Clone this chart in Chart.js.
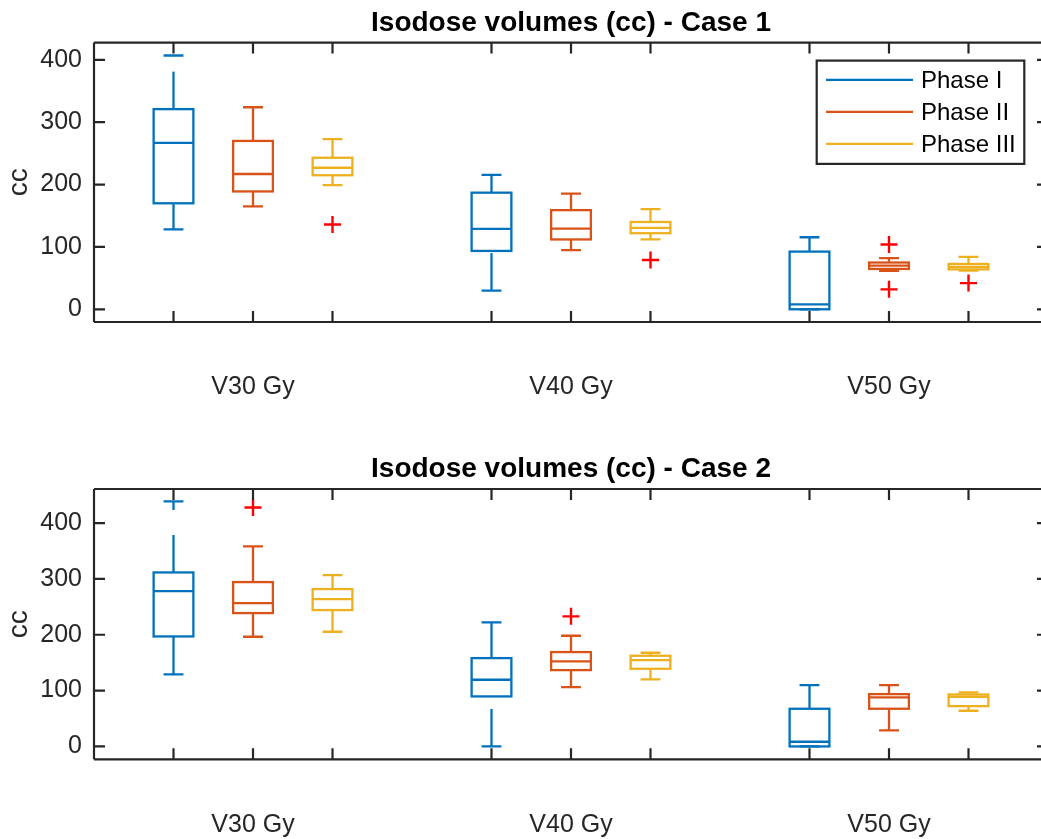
<!DOCTYPE html>
<html>
<head>
<meta charset="utf-8">
<script src="https://cdn.jsdelivr.net/npm/chart.js@4.4.1/dist/chart.umd.min.js"></script>
<style>
  html, body { margin: 0; padding: 0; background: #fff; overflow: hidden; }
  #wrap { position: relative; width: 1060px; height: 839px; }
  canvas { position: absolute; left: 0; }
</style>
</head>
<body>
<div id="wrap">
  <canvas id="case1" width="1060" height="420" style="top:0"></canvas>
  <canvas id="case2" width="1060" height="419" style="top:420px"></canvas>
</div>
<script>
const groups = ['V30 Gy', 'V40 Gy', 'V50 Gy'];
const phases = ['Phase I', 'Phase II', 'Phase III'];
const phaseColors = ['#0072BD', '#D95319', '#EDB120'];
const yTicks = [0, 100, 200, 300, 400];

// box stats, order: V30 (I, II, III), V40 (I, II, III), V50 (I, II, III)
const case1Lo  = [128, 165, 199, 30, 95, 112, 0, 61.5, 62];
const case1Q1  = [170, 189, 215, 93.6, 112, 122, 0, 64.7, 64];
const case1Med = [267, 217, 227, 129, 129.5, 130.5, 8, 70, 68];
const case1Q3  = [321, 270, 243, 187, 159, 140, 92.5, 75, 72.7];
const case1Hi  = [407, 324, 273, 215.5, 185.5, 160.5, 115.5, 82, 84];
const case1OutIdx = [2, 5, 7, 7, 8];
const case1OutVal = [136, 79, 104, 32, 42];

const case2Lo  = [129, 196.4, 205.4, 0, 106.3, 120, 0, 28.7, 63.9];
const case2Q1  = [197, 238.8, 244.2, 89.6, 136.7, 139.1, 0, 67.5, 72.2];
const case2Med = [278.2, 256.7, 263.9, 119.4, 152.2, 154.6, 8.4, 87.8, 89];
const case2Q3  = [311.6, 294.3, 281.8, 158.2, 169, 162.4, 67.5, 93.7, 93.1];
const case2Hi  = [439, 358.2, 306.9, 222, 198.2, 167.8, 109.9, 109.9, 96.7];
const case2OutIdx = [1, 4];
const case2OutVal = [428, 233];

Chart.defaults.font.family = "'Liberation Sans', Arial, Helvetica, sans-serif";
const axisColor = '#262626';

// box i sits at group*4 + phase + 1 on the x axis
const boxX = i => Math.floor(i / 3) * 4 + (i % 3) + 1;

const boxPlugin = {
  id: 'boxes',
  afterDatasetsDraw(chart, args, o) {
    const { ctx } = chart;
    const x = chart.scales.x, y = chart.scales.y;
    ctx.save();
    ctx.lineWidth = 2.3;
    for (let i = 0; i < o.med.length; i++) {
      const c = x.getPixelForValue(boxX(i));
      const half = x.getPixelForValue(boxX(i) + 0.25) - c;
      const cap = half / 2;
      ctx.strokeStyle = phaseColors[i % 3];
      // whiskers (dashed, drawn bottom to top)
      ctx.setLineDash([37.5, 25]);
      ctx.beginPath();
      ctx.moveTo(c, y.getPixelForValue(o.lo[i]));
      ctx.lineTo(c, y.getPixelForValue(o.q1[i]));
      ctx.stroke();
      ctx.beginPath();
      ctx.moveTo(c, y.getPixelForValue(o.q3[i]));
      ctx.lineTo(c, y.getPixelForValue(o.hi[i]));
      ctx.stroke();
      ctx.setLineDash([]);
      // caps
      ctx.beginPath();
      [o.lo[i], o.hi[i]].forEach(v => {
        const py = y.getPixelForValue(v);
        ctx.moveTo(c - cap, py);
        ctx.lineTo(c + cap, py);
      });
      ctx.stroke();
      // box + median
      const t = y.getPixelForValue(o.q3[i]), b = y.getPixelForValue(o.q1[i]);
      ctx.strokeRect(c - half, t, half * 2, b - t);
      const m = y.getPixelForValue(o.med[i]);
      ctx.beginPath();
      ctx.moveTo(c - half, m);
      ctx.lineTo(c + half, m);
      ctx.stroke();
    }
    ctx.restore();
  },
  afterDraw(chart, args, o) {
    const { ctx, chartArea: a } = chart;
    const x = chart.scales.x, y = chart.scales.y;
    ctx.save();
    ctx.strokeStyle = axisColor;
    ctx.lineWidth = 2.2;
    ctx.beginPath();
    ctx.moveTo(a.left, a.top); ctx.lineTo(a.right, a.top);
    ctx.moveTo(a.left, a.bottom); ctx.lineTo(a.right, a.bottom);
    ctx.moveTo(a.left, a.top); ctx.lineTo(a.left, a.bottom);
    ctx.moveTo(a.right, a.top); ctx.lineTo(a.right, a.bottom);
    const tl = 11;
    for (let i = 0; i < o.med.length; i++) {
      const px = x.getPixelForValue(boxX(i));
      ctx.moveTo(px, a.bottom); ctx.lineTo(px, a.bottom - tl);
      ctx.moveTo(px, a.top); ctx.lineTo(px, a.top + tl);
    }
    yTicks.forEach(v => {
      const py = y.getPixelForValue(v);
      ctx.moveTo(a.left, py); ctx.lineTo(a.left + tl, py);
      ctx.moveTo(a.right, py); ctx.lineTo(a.right - tl, py);
    });
    ctx.stroke();

    if (o.legend) {
      const lw = 207.6, lh = 103.3;
      const lx = a.right - 23.7 - lw, ly = a.top + 18;
      ctx.fillStyle = '#fff';
      ctx.fillRect(lx, ly, lw, lh);
      ctx.strokeStyle = axisColor;
      ctx.strokeRect(lx, ly, lw, lh);
      ctx.font = "24px 'Liberation Sans', Arial, sans-serif";
      ctx.textBaseline = 'middle';
      ctx.textAlign = 'left';
      ctx.lineWidth = 2.3;
      phases.forEach((p, k) => {
        const ry = ly + 19.3 + 32 * k;
        ctx.strokeStyle = phaseColors[k];
        ctx.beginPath();
        ctx.moveTo(lx + 9.3, ry); ctx.lineTo(lx + 96.3, ry);
        ctx.stroke();
        ctx.fillStyle = '#000';
        ctx.fillText(p, lx + 104.3, ry + 1.5);
      });
    }
    ctx.restore();
  }
};

function makeChart(id, title, stats, outIdx, outVal, yMin, yMax, padTop, xHeight, legend) {
  return new Chart(document.getElementById(id), {
    type: 'scatter',
    data: {
      datasets: [{
        label: 'Outliers',
        data: outIdx.map((i, k) => ({ x: boxX(i), y: outVal[k] })),
        pointStyle: 'cross',
        pointRadius: 8.5,
        pointHoverRadius: 8.5,
        borderColor: '#FF0000',
        borderWidth: 2.4,
        clip: false
      }]
    },
    options: {
      responsive: false,
      animation: false,
      events: [],
      layout: { padding: { top: padTop, right: 12, left: 0, bottom: 0 } },
      plugins: {
        legend: { display: false },
        tooltip: { enabled: false },
        title: {
          display: true,
          text: title,
          fullSize: false,
          color: '#000',
          font: { size: 28, weight: 'bold' },
          padding: { top: 6, bottom: 3 }
        },
        boxes: Object.assign({ legend: legend }, stats)
      },
      scales: {
        x: {
          type: 'linear',
          min: 0, max: 12,
          grid: { display: false, drawTicks: false },
          border: { display: false },
          afterBuildTicks: s => { s.ticks = groups.map((g, k) => ({ value: k * 4 + 2 })); },
          afterFit: s => { s.height = xHeight; },
          ticks: {
            autoSkip: false, maxRotation: 0,
            padding: 50.5,
            color: axisColor,
            font: { size: 25 },
            callback: v => groups[(v - 2) / 4]
          }
        },
        y: {
          min: yMin, max: yMax,
          grid: { display: false, drawTicks: false },
          border: { display: false },
          afterBuildTicks: s => { s.ticks = yTicks.map(v => ({ value: v })); },
          afterFit: s => { s.width = 94; },
          ticks: { padding: 12, color: axisColor, font: { size: 25 } },
          title: {
            display: true, text: 'cc', color: axisColor,
            font: { size: 28 }, padding: { top: 2, bottom: 0 }
          }
        }
      }
    },
    plugins: [boxPlugin]
  });
}

makeChart('case1', 'Isodose volumes (cc) - Case 1',
  { lo: case1Lo, q1: case1Q1, med: case1Med, q3: case1Q3, hi: case1Hi },
  case1OutIdx, case1OutVal, -20.4, 427.7, 0, 98, true);

makeChart('case2', 'Isodose volumes (cc) - Case 2',
  { lo: case2Lo, q1: case2Q1, med: case2Med, q3: case2Q3, hi: case2Hi },
  case2OutIdx, case2OutVal, -23, 461, 26.4, 79.7, false);
</script>
</body>
</html>
